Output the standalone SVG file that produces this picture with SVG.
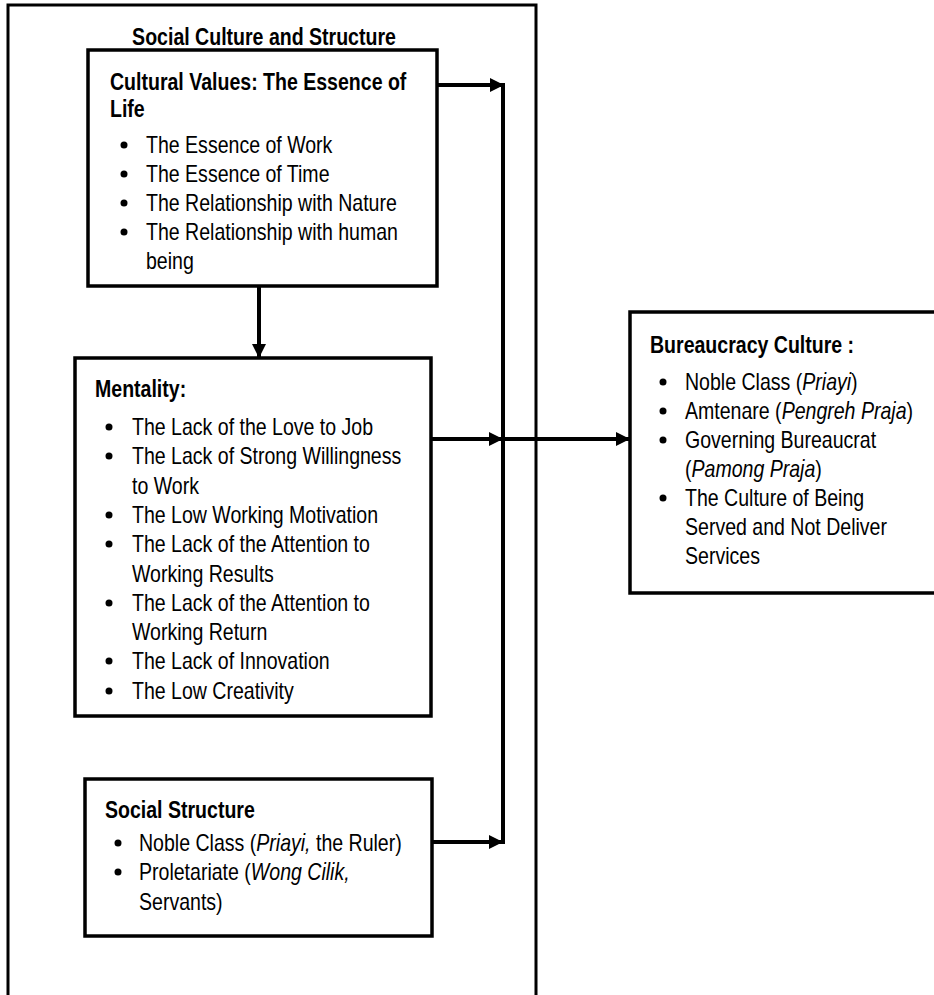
<svg xmlns="http://www.w3.org/2000/svg" width="934" height="995" viewBox="0 0 934 995">
<defs>
<style>
text{font-family:"Liberation Sans Narrow","Liberation Sans",Arial,sans-serif;font-size:23px;fill:#000}
.b{font-weight:bold}
.i{font-style:italic}
.box{fill:#fff;stroke:#000;stroke-width:3.5}
.ln{fill:none;stroke:#000;stroke-width:4}
.dot{fill:#000}
</style>
<marker id="ah" viewBox="0 0 14 14" refX="13" refY="7" markerWidth="14" markerHeight="14" markerUnits="userSpaceOnUse" orient="auto">
<path d="M0,0 L14,7 L0,14 Z" fill="#000"/>
</marker>
</defs>
<rect width="934" height="995" fill="#fff"/>
<g id="outer">
<path d="M8,1000 V5 H536 V1000" fill="none" stroke="#000" stroke-width="3"/>
<g transform="translate(264,0) scale(0.85,1)"><text class="b" x="0" y="45" text-anchor="middle">Social Culture and Structure</text></g>
</g>
<g id="connectors">
<line class="ln" x1="437" y1="85" x2="503" y2="85" marker-end="url(#ah)"/>
<line class="ln" x1="503" y1="83" x2="503" y2="844"/>
<line class="ln" x1="259" y1="286" x2="259" y2="357" marker-end="url(#ah)"/>
<line class="ln" x1="431" y1="439" x2="502" y2="439" marker-end="url(#ah)"/>
<line class="ln" x1="503" y1="439" x2="629" y2="439" marker-end="url(#ah)"/>
<line class="ln" x1="432" y1="842" x2="502" y2="842" marker-end="url(#ah)"/>
</g>
<g id="cultural">
<rect class="box" x="88" y="50" width="349" height="236"/>
<g transform="translate(110,0) scale(0.85,1)">
<text class="b" x="0" y="90">Cultural Values: The Essence of</text>
<text class="b" x="0" y="117">Life</text>
</g>
<circle class="dot" cx="124" cy="145" r="3.5"/>
<circle class="dot" cx="124" cy="174" r="3.5"/>
<circle class="dot" cx="124" cy="203" r="3.5"/>
<circle class="dot" cx="124" cy="232" r="3.5"/>
<g transform="translate(146,0) scale(0.85,1)">
<text x="0" y="153">The Essence of Work</text>
<text x="0" y="182">The Essence of Time</text>
<text x="0" y="211">The Relationship with Nature</text>
<text x="0" y="240">The Relationship with human</text>
<text x="0" y="269">being</text>
</g>
</g>
<g id="mentality">
<rect class="box" x="75" y="358" width="356" height="358"/>
<g transform="translate(95,0) scale(0.85,1)"><text class="b" x="0" y="397">Mentality:</text></g>
<circle class="dot" cx="109" cy="427" r="3.5"/>
<circle class="dot" cx="109" cy="456" r="3.5"/>
<circle class="dot" cx="109" cy="515" r="3.5"/>
<circle class="dot" cx="109" cy="544" r="3.5"/>
<circle class="dot" cx="109" cy="603" r="3.5"/>
<circle class="dot" cx="109" cy="661" r="3.5"/>
<circle class="dot" cx="109" cy="691" r="3.5"/>
<g transform="translate(132,0) scale(0.85,1)">
<text x="0" y="435">The Lack of the Love to Job</text>
<text x="0" y="464">The Lack of Strong Willingness</text>
<text x="0" y="494">to Work</text>
<text x="0" y="523">The Low Working Motivation</text>
<text x="0" y="552">The Lack of the Attention to</text>
<text x="0" y="582">Working Results</text>
<text x="0" y="611">The Lack of the Attention to</text>
<text x="0" y="640">Working Return</text>
<text x="0" y="669">The Lack of Innovation</text>
<text x="0" y="699">The Low Creativity</text>
</g>
</g>
<g id="social">
<rect class="box" x="85" y="779" width="347" height="157"/>
<g transform="translate(105,0) scale(0.85,1)"><text class="b" x="0" y="818">Social Structure</text></g>
<circle class="dot" cx="118" cy="843" r="3.5"/>
<circle class="dot" cx="118" cy="872" r="3.5"/>
<g transform="translate(139,0) scale(0.85,1)">
<text x="0" y="851">Noble Class (<tspan class="i">Priayi,</tspan> the Ruler)</text>
<text x="0" y="880">Proletariate (<tspan class="i">Wong Cilik,</tspan></text>
<text x="0" y="910">Servants)</text>
</g>
</g>
<g id="bureaucracy">
<path class="box" d="M940,312 H630 V593 H940"/>
<g transform="translate(650,0) scale(0.85,1)"><text class="b" x="0" y="353">Bureaucracy Culture :</text></g>
<circle class="dot" cx="663" cy="382" r="3.5"/>
<circle class="dot" cx="663" cy="411" r="3.5"/>
<circle class="dot" cx="663" cy="440" r="3.5"/>
<circle class="dot" cx="663" cy="498" r="3.5"/>
<g transform="translate(685,0) scale(0.85,1)">
<text x="0" y="390">Noble Class (<tspan class="i">Priayi</tspan>)</text>
<text x="0" y="419">Amtenare (<tspan class="i">Pengreh Praja</tspan>)</text>
<text x="0" y="448">Governing Bureaucrat</text>
<text x="0" y="477">(<tspan class="i">Pamong Praja</tspan>)</text>
<text x="0" y="506">The Culture of Being</text>
<text x="0" y="535">Served and Not Deliver</text>
<text x="0" y="564">Services</text>
</g>
</g>
</svg>
